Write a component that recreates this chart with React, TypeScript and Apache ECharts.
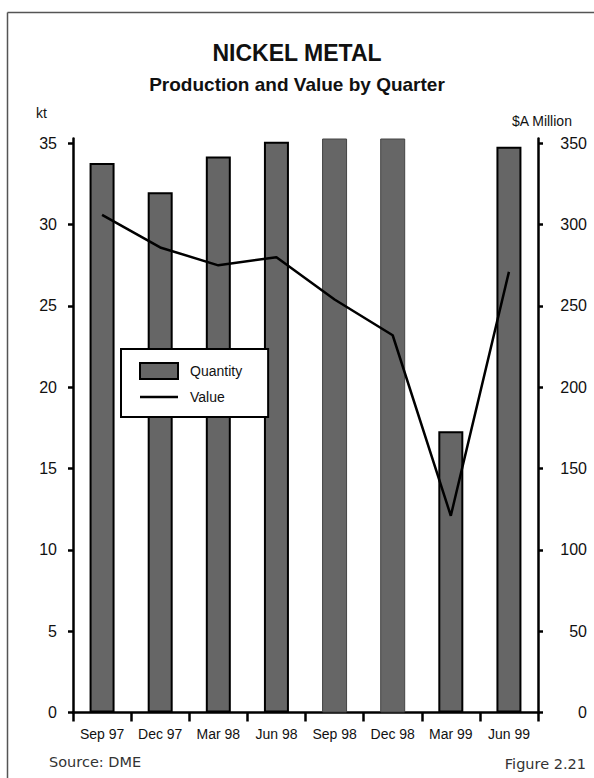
import React, { useEffect, useRef } from "react";
import * as echarts from "echarts";

const categories = ["Sep 97", "Dec 97", "Mar 98", "Jun 98", "Sep 98", "Dec 98", "Mar 99", "Jun 99"];
const quantity = [33.8, 32.0, 34.2, 35.1, 35.3, 35.3, 17.3, 34.8];
const outlined = [true, true, true, true, false, false, true, true];
const value = [306, 286, 275, 280, 254, 232, 121, 271];
const leftTicks = [0, 5, 10, 15, 20, 25, 30, 35];
const rightTicks = [0, 50, 100, 150, 200, 250, 300, 350];

const FONT = "'Liberation Sans', Arial, sans-serif";
const LIGHT = "'DejaVu Sans', sans-serif";

export default function App() {
  const ref = useRef<HTMLDivElement>(null);
  useEffect(() => {
    if (!ref.current) return;
    const chart = echarts.init(ref.current, null, { renderer: "svg" });
    const option: any = {
      animation: false,
      backgroundColor: "#fff",
      textStyle: { fontFamily: FONT },
      title: [
        {
          text: "NICKEL METAL",
          left: "center",
          top: 41,
          padding: 0,
          textStyle: { fontSize: 23, fontWeight: "bold", color: "#111", fontFamily: FONT },
        },
        {
          text: "Production and Value by Quarter",
          left: "center",
          top: 75,
          padding: 0,
          textStyle: { fontSize: 19, fontWeight: "bold", color: "#111", fontFamily: FONT },
        },
      ],
      legend: {
        orient: "vertical",
        left: 121,
        top: 349,
        padding: [13, 26, 13, 18],
        itemGap: 10,
        itemWidth: 38,
        itemHeight: 16,
        backgroundColor: "#fff",
        borderColor: "#000",
        borderWidth: 2,
        borderRadius: 0,
        symbolKeepAspect: true,
        textStyle: { fontSize: 14, color: "#111", fontFamily: FONT, padding: [0, 0, 0, 7] },
        data: [
          { name: "Quantity", icon: "rect" },
          { name: "Value", icon: "path://M0,0h38v2.5h-38z", itemStyle: { color: "#000" } },
        ],
      },
      grid: { left: 73, right: 56, top: 138.5, bottom: 65.5 },
      xAxis: {
        type: "category",
        data: categories,
        boundaryGap: true,
        axisLine: { lineStyle: { color: "#000", width: 2.5 } },
        axisTick: { show: true, length: 9, interval: 0, lineStyle: { color: "#000", width: 2.5 } },
        axisLabel: { fontSize: 14, color: "#111", margin: 14, interval: 0, fontFamily: FONT },
        splitLine: { show: false },
      },
      yAxis: [
        {
          type: "value",
          position: "left",
          min: 0,
          max: 35.3,
          axisLine: { show: true, lineStyle: { color: "#000", width: 2.5 } },
          axisTick: { show: true, length: 5, customValues: leftTicks, lineStyle: { color: "#000", width: 2.5 } },
          axisLabel: {
            customValues: leftTicks,
            fontSize: 16,
            color: "#111",
            margin: 16,
            padding: [9, 0, 0, 0],
            fontFamily: FONT,
          },
          splitLine: { show: false },
        },
        {
          type: "value",
          position: "right",
          min: 0,
          max: 353,
          axisLine: { show: true, lineStyle: { color: "#000", width: 2.5 } },
          axisTick: { show: true, length: 5, customValues: rightTicks, lineStyle: { color: "#000", width: 2.5 } },
          axisLabel: {
            customValues: rightTicks,
            fontSize: 16,
            color: "#111",
            margin: 49,
            align: "right",
            padding: [9, 0, 0, 0],
            fontFamily: FONT,
          },
          splitLine: { show: false },
        },
      ],
      series: [
        {
          name: "Quantity",
          type: "bar",
          yAxisIndex: 0,
          barWidth: 25,
          clip: false,
          itemStyle: { color: "#666666", borderColor: "#000", borderWidth: 2 },
          data: quantity.map((v, i) =>
            outlined[i]
              ? { value: v }
              : { value: v, itemStyle: { color: "#666666", borderColor: "#444", borderWidth: 1 } }
          ),
          z: 2,
        },
        {
          name: "Value",
          type: "line",
          yAxisIndex: 1,
          symbol: "none",
          showSymbol: false,
          lineStyle: { color: "#000", width: 2.5 },
          itemStyle: { color: "#000" },
          data: value,
          z: 3,
        },
      ],
      graphic: [
        {
          type: "line",
          shape: { x1: 7.5, y1: 12.5, x2: 594, y2: 12.5 },
          style: { stroke: "#555", lineWidth: 1.5 },
        },
        {
          type: "line",
          shape: { x1: 7.5, y1: 12.5, x2: 7.5, y2: 778 },
          style: { stroke: "#555", lineWidth: 1.5 },
        },
        {
          type: "text",
          left: 36,
          top: 106,
          style: { text: "kt", fontSize: 14, fill: "#111", fontFamily: FONT },
        },
        {
          type: "text",
          left: 512,
          top: 114,
          style: { text: "$A Million", fontSize: 14, fill: "#111", fontFamily: FONT },
        },
        {
          type: "text",
          left: 49,
          top: 754,
          style: { text: "Source: DME", fontSize: 14.5, fill: "#333", fontFamily: LIGHT },
        },
        {
          type: "text",
          right: 8,
          top: 756,
          style: { text: "Figure 2.21", fontSize: 14.5, fill: "#333", fontFamily: LIGHT },
        },
      ],
    };
    chart.setOption(option);
    return () => chart.dispose();
  }, []);
  return (
    <div
      ref={ref}
      style={{ position: "fixed", left: 0, top: 0, width: 594, height: 778 }}
    />
  );
}
